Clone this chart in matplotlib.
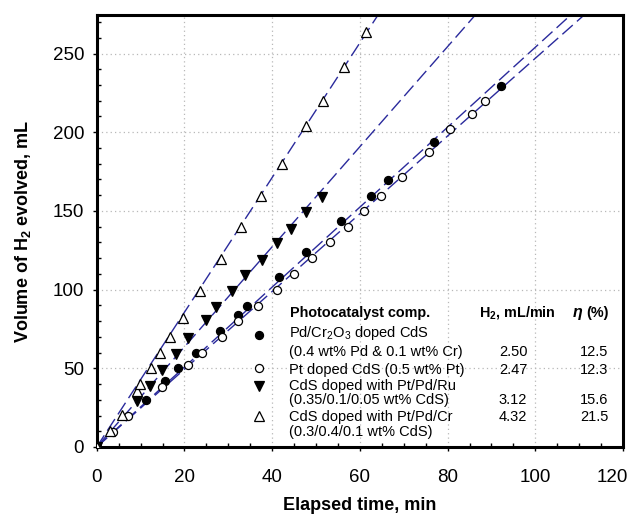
import matplotlib
matplotlib.use('Agg')
import matplotlib.pyplot as plt
from matplotlib.ticker import MultipleLocator
from matplotlib.transforms import offset_copy

plt.rcParams['font.family'] = ['Liberation Sans', 'DejaVu Sans']
plt.rcParams['mathtext.fontset'] = 'custom'
plt.rcParams['mathtext.rm'] = 'Liberation Sans'
plt.rcParams['mathtext.it'] = 'Liberation Sans:italic'
plt.rcParams['mathtext.bf'] = 'Liberation Sans:bold'

# filled circles: Pd/Cr2O3 doped CdS
t_pdcr = [0, 11.2, 15.6, 18.6, 22.6, 28.1, 32.3, 34.3, 41.5, 47.8, 55.6, 62.6, 66.5, 76.9, 92.1]
v_pdcr = [0, 29.9, 42.1, 50.0, 59.5, 73.9, 83.9, 89.8, 107.8, 123.7, 143.8, 159.7, 169.6, 193.6, 229.5]

# open circles: Pt doped CdS
t_pt = [0, 3.65, 7.2, 14.8, 20.7, 24.1, 28.5, 32.3, 36.8, 41.0, 45.0, 49.0, 53.1, 57.4,
        61.0, 64.9, 69.5, 75.7, 80.5, 85.6, 88.5]
v_pt = [0, 9.7, 19.9, 37.9, 52.1, 59.5, 69.7, 80.0, 89.8, 99.7, 109.9, 119.9, 130.0, 139.6,
        149.7, 159.7, 171.7, 187.6, 201.8, 211.8, 219.8]

# filled down triangles: CdS doped with Pt/Pd/Ru
t_ru = [0, 9.3, 12.1, 14.9, 18.0, 20.9, 24.9, 27.3, 30.8, 33.8, 37.6, 41.0, 44.3, 47.8, 51.3]
v_ru = [0, 29.2, 38.9, 48.9, 58.9, 69.0, 80.7, 89.1, 99.3, 109.3, 118.8, 129.3, 138.7, 149.1, 158.6]

# open up triangles: CdS doped with Pt/Pd/Cr
t_cr = [0, 3.0, 5.7, 9.1, 9.9, 12.3, 14.4, 16.7, 19.6, 23.5, 28.3, 33.0, 37.4, 42.2,
        47.8, 51.5, 56.3, 61.3]
v_cr = [0, 10.4, 20.3, 35.8, 40.0, 50.0, 59.5, 69.7, 81.8, 99.3, 119.4, 139.6, 159.7, 179.8,
        204.0, 219.8, 241.6, 263.5]

# slopes of the dashed fit lines (mL/min)
fit_slopes = [2.54, 2.47, 3.18, 4.28]
fit_x = [0, 120]

x_ticks = [0, 20, 40, 60, 80, 100, 120]
y_ticks = [0, 50, 100, 150, 200, 250]

legend_names = [
    ['Pd/Cr$_2$O$_3$ doped CdS', '(0.4 wt% Pd & 0.1 wt% Cr)'],
    ['Pt doped CdS (0.5 wt% Pt)'],
    ['CdS doped with Pt/Pd/Ru', '(0.35/0.1/0.05 wt% CdS)'],
    ['CdS doped with Pt/Pd/Cr', '(0.3/0.4/0.1 wt% CdS)'],
]
rates = ['2.50', '2.47', '3.12', '4.32']
effs = ['12.5', '12.3', '15.6', '21.5']

fig = plt.figure(figsize=(6.3, 5.25), dpi=100)
ax = fig.add_axes([0.1535, 0.1486, 0.8355, 0.8229])

line_col = '#2a2a9c'
for s in fit_slopes:
    ax.plot(fit_x, [x * s for x in fit_x], color=line_col, lw=1.0,
            dashes=(10, 4), zorder=2)

mk = dict(linestyle='none', markeredgecolor='black', markeredgewidth=0.9, zorder=3)
ax.plot(t_pdcr, v_pdcr, marker='o', ms=5.8, markerfacecolor='black', **mk)
ax.plot(t_pt, v_pt, marker='o', ms=5.8, markerfacecolor='white', **mk)
ax.plot(t_ru, v_ru, marker='v', ms=6.8, markerfacecolor='black', **mk)
ax.plot(t_cr, v_cr, marker='^', ms=6.8, markerfacecolor='white', **mk)

ax.set_xlim(0, 120)
ax.set_ylim(0, 274.5)
ax.set_xticks(x_ticks)
ax.set_yticks(y_ticks)
ax.xaxis.set_minor_locator(MultipleLocator(5))
ax.yaxis.set_minor_locator(MultipleLocator(10))
ax.tick_params(which='both', top=False, right=False, width=1.0)
ax.tick_params(which='major', direction='out', length=3, labelsize=13.5)
ax.tick_params(which='minor', direction='in', length=3)
ax.tick_params(axis='x', which='major', pad=13)
ax.tick_params(axis='y', which='major', pad=6)
for sp in ax.spines.values():
    sp.set_linewidth(2.2)
ax.grid(True, which='major', color='#b8b8b8', linestyle=(0, (1, 2.5)), lw=0.9)
ax.set_axisbelow(True)

# last x tick label sits shifted left like in the original
last = ax.xaxis.get_major_ticks()[-1].label1
last.set_horizontalalignment('right')
last.set_transform(offset_copy(last.get_transform(), fig=fig, x=5, units='dots'))

ax.set_xlabel('Elapsed time, min', fontsize=13, fontweight='bold', labelpad=8)
ax.set_ylabel(r'Volume of H$_\mathbf{2}$ evolved, mL', fontsize=13, fontweight='bold',
              labelpad=14)

# legend table
tr = ax.transAxes
fs = 10.5
ax.text(0.367, 0.311, 'Photocatalyst comp.', transform=tr, fontsize=10.4,
        fontweight='bold', va='center')
ax.text(0.727, 0.311, r'H$_\mathbf{2}$, mL/min', transform=tr, fontsize=10.4,
        fontweight='bold', va='center')
ax.text(0.905, 0.311, 'η', transform=tr, fontsize=11.5, fontweight='bold',
        style='italic', va='center')
ax.text(0.972, 0.311, '(%)', transform=tr, fontsize=10.4, fontweight='bold',
        va='center', ha='right')

name_rows = [[0.264, 0.220], [0.178], [0.141, 0.109], [0.069, 0.035]]
value_rows = [0.220, 0.178, 0.109, 0.069]
marker_rows = [0.259, 0.183, 0.141, 0.072]
legend_markers = [('o', 'black', 5.8), ('o', 'white', 5.8), ('v', 'black', 6.8), ('^', 'white', 6.8)]

for names, ys, yv, ym, (m, fc, ms), r, e in zip(legend_names, name_rows, value_rows,
                                                 marker_rows, legend_markers, rates, effs):
    ax.plot([0.308], [ym], transform=tr, marker=m, ms=ms, markerfacecolor=fc,
            markeredgecolor='black', markeredgewidth=0.9, linestyle='none', clip_on=False)
    for nm, y in zip(names, ys):
        ax.text(0.365, y, nm, transform=tr, fontsize=fs, va='center')
    ax.text(0.818, yv, r, transform=tr, fontsize=fs, va='center', ha='right')
    ax.text(0.972, yv, e, transform=tr, fontsize=fs, va='center', ha='right')

fig.savefig('out.png', dpi=100)
